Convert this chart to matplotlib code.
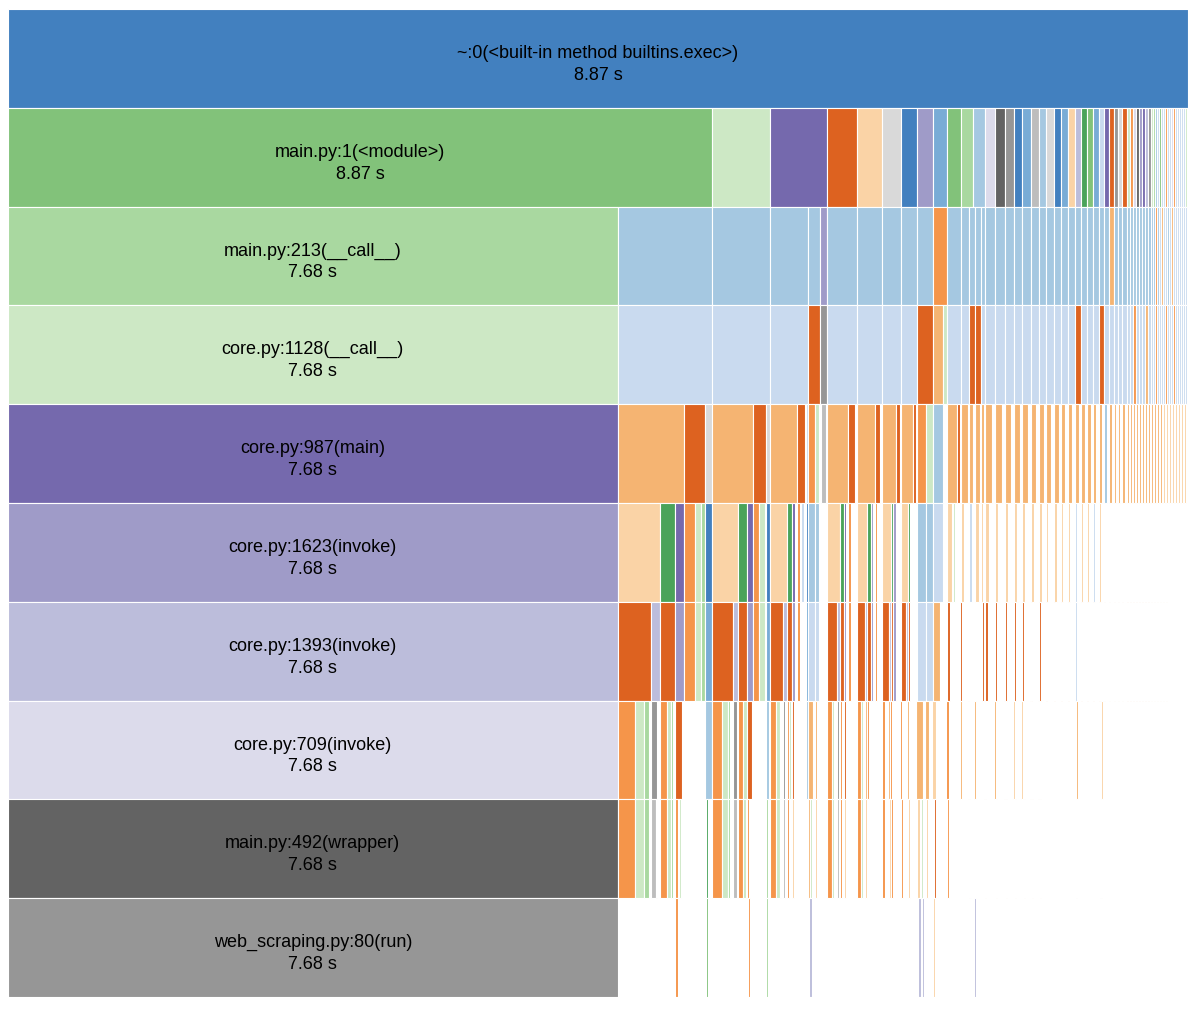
import numpy as np
import matplotlib.pyplot as plt

plt.rcParams["font.family"] = ["Liberation Sans", "DejaVu Sans"]

# category20c as it shows on the screenshot
PALETTE = [
    "#4280bf", "#79acd6", "#a5c8e1", "#c9daef",
    "#dd6220", "#f5954a", "#f5b472", "#fad3a6",
    "#4aa35a", "#82c27a", "#a9d8a0", "#cde8c5",
    "#7569ad", "#9f9bc8", "#bcbddb", "#dcdbeb",
    "#636363", "#969696", "#bdbdbd", "#d9d9d9",
]

FRAMES = [
    "~:0(<built-in method builtins.exec>)",
    "main.py:1(<module>)",
    "main.py:213(__call__)",
    "core.py:1128(__call__)",
    "core.py:987(main)",
    "core.py:1623(invoke)",
    "core.py:1393(invoke)",
    "core.py:709(invoke)",
    "main.py:492(wrapper)",
    "web_scraping.py:80(run)",
]
FRAME_TIMES = [8.87, 8.87, 7.68, 7.68, 7.68, 7.68, 7.68, 7.68, 7.68, 7.68]
FRAME_COLOURS = [0, 9, 10, 11, 12, 13, 14, 15, 16, 17]

# the other calls to the right of each labelled frame: (seconds, palette index), None = empty
N = None

ROW_2 = [
    (0.731, 11), (0.718, 12), (0.378, 4), (0.315, 7), (0.239, 19), (0.202, 0),
    (0.202, 13), (0.176, 1), (0.176, 9), (0.151, 10), (0.151, 2), (0.126, 15),
    (0.126, 16), (0.113, 17), (0.101, 0), (0.113, 1), (0.101, 18), (0.088, 2),
    (0.101, 19), (0.088, 0), (0.088, 1), (0.088, 7), (0.076, 14), (0.076, 8),
    (0.076, 9), (0.076, 1), (0.063, 3), (0.063, 12), (0.063, 4), (0.050, 17),
    (0.050, 19), (0.063, 4),
    (0.038, 11), (0.038, 5), (0.038, 15), (0.038, 16), (0.038, 13), (0.038, 12),
    (0.038, 14), (0.038, 17), (0.025, 11), (0.025, 10), (0.025, 2), (0.025, 3),
    (0.025, 9), (0.025, 3), (0.025, 3), (0.025, 5), (0.025, 3), (0.025, 3),
    (0.025, 15), (0.025, 5), (0.025, 3), (0.025, 3), (0.025, 3), (0.025, 3),
    (0.025, 3), (0.025, 11), (0.013, 3),
]

ROW_3 = [
    (1.184, 2), (0.731, 2), (0.479, 2), (0.151, 2), (0.088, 13), (0.378, 2),
    (0.315, 2), (0.239, 2), (0.202, 2), (0.202, 2), (0.176, 5), (0.176, 2),
    (0.101, 2), (0.076, 2), (0.076, 2), (0.050, 2),
    (0.126, 2), (0.126, 2), (0.113, 2), (0.101, 2), (0.113, 2), (0.101, 2),
    (0.088, 2), (0.101, 2), (0.088, 2), (0.088, 2), (0.088, 2), (0.076, 2),
    (0.076, 2), (0.076, 2), (0.076, 2), (0.063, 2), (0.063, 2), (0.063, 6),
    (0.050, 2), (0.050, 2), (0.063, 2),
    (0.038, 2), (0.038, 2), (0.038, 2), (0.038, 2), (0.038, 2), (0.038, 2),
    (0.038, 2), (0.038, 2), (0.025, 2), (0.025, 2), (0.025, 5), (0.025, 2),
    (0.025, 3), (0.025, 6), (0.025, 3), (0.025, 3), (0.025, 2), (0.025, 3),
    (0.025, 6), (0.025, 3), (0.025, 3), (0.025, 3), (0.025, 3), (0.025, 3),
    (0.025, 3), (0.025, 3), (0.013, 3),
]

ROW_4 = [
    (1.184, 3), (0.731, 3), (0.479, 3), (0.151, 4), (0.088, 17), (0.378, 3),
    (0.315, 3), (0.239, 3), (0.202, 3), (0.202, 4), (0.126, 6), (0.050, 11),
    (0.176, 3), (0.101, 3), (0.076, 4), (0.076, 4), (0.050, 3),
    (0.126, 3), (0.126, 3), (0.113, 3), (0.101, 3), (0.113, 3), (0.101, 3),
    (0.088, 3), (0.101, 3), (0.088, 3), (0.088, 3), (0.088, 3), (0.076, 4),
    (0.076, 3), (0.076, 3), (0.076, 3), (0.063, 4), (0.063, 3), (0.063, 3),
    (0.050, 3), (0.050, 3), (0.063, 3),
    (0.038, 3), (0.038, 3), (0.038, 5), (0.038, 3), (0.038, 3), (0.038, 3),
    (0.038, 6), (0.038, 3), (0.025, 3), (0.025, 3), (0.025, 5), (0.025, 3),
    (0.025, 3), (0.025, 3), (0.025, 3), (0.025, 5), (0.025, 3), (0.025, 3),
    (0.025, 3), (0.025, 5), (0.025, 3), (0.025, 3), (0.025, 3), (0.025, 3),
    (0.025, 3), (0.025, 3), (0.013, 3),
]

ROW_5 = [
    (0.832, 6), (0.265, 4), (0.088, 19),
    (0.517, 6), (0.164, 4), (0.050, 19),
    (0.340, 6), (0.101, 4), (0.013, N), (0.025, 3),
    (0.088, 5), (0.050, 11), (0.013, N),
    (0.013, N), (0.063, 18), (0.013, N),
    (0.265, 6), (0.088, 4), (0.025, N),
    (0.227, 6), (0.063, 4), (0.025, N),
    (0.176, 6), (0.050, 4), (0.013, N),
    (0.151, 6), (0.038, 4), (0.013, N),
    (0.113, 5), (0.088, 11),
    (0.126, 2),
    (0.050, N),
    (0.126, 6), (0.038, 4), (0.013, N),
    (0.088, 6), (0.013, N),
    (0.050, 6), (0.025, N),
    (0.063, 6), (0.013, N),
    (0.038, 6), (0.013, N),
    (0.088, 6), (0.038, N), (0.088, 6), (0.038, N), (0.076, 6), (0.038, N),
    (0.076, 6), (0.025, N), (0.076, 6), (0.038, N), (0.063, 6), (0.038, N),
    (0.063, 6), (0.025, N), (0.063, 6), (0.038, N), (0.063, 6), (0.025, N),
    (0.050, 6), (0.038, N), (0.050, 6), (0.038, N), (0.050, 6), (0.025, N),
    (0.050, 6), (0.025, N), (0.050, 6), (0.025, N), (0.038, 6), (0.038, N),
    (0.038, 6), (0.025, N), (0.038, 2), (0.025, N), (0.038, 6), (0.025, N),
    (0.025, 6), (0.025, N), (0.025, 6), (0.025, N), (0.038, 6), (0.025, N),
    (0.025, 6), (0.013, N), (0.025, 6), (0.013, N), (0.025, 6), (0.013, N),
    (0.025, 6), (0.013, N), (0.025, 6), (0.013, N), (0.025, 6), (0.013, N),
    (0.025, 6), (0.013, N), (0.025, 6), (0.013, N), (0.025, 6), (0.013, N),
    (0.025, 6), (0.013, N), (0.025, 6), (0.013, N), (0.025, 6), (0.013, N),
    (0.025, 7), (0.013, N), (0.025, 7), (0.013, N), (0.025, 7), (0.013, N),
    (0.025, 7), (0.013, N), (0.025, 7), (0.013, N), (0.025, 7), (0.013, N),
    (0.025, 7), (0.013, N), (0.025, 7), (0.013, N),
]

ROW_6 = [
    (0.529, 7), (0.189, 8), (0.113, 12),
    (0.139, 5), (0.076, 11), (0.050, 10),
    (0.088, 0),
    (0.328, 7), (0.113, 8), (0.076, 12),
    (0.076, 5), (0.076, 11), (0.013, N),
    (0.050, 0),
    (0.214, 7), (0.063, 8), (0.038, 12), (0.025, N),
    (0.038, 5), (0.013, N), (0.038, 3), (0.013, N),
    (0.013, N), (0.025, 0),
    (0.088, 2), (0.050, 2),
    (0.101, N),
    (0.164, 7), (0.050, 8), (0.025, 12), (0.025, N),
    (0.038, 5), (0.050, N), (0.025, N),
    (0.126, 7), (0.050, 8), (0.025, 13), (0.025, N),
    (0.025, 5), (0.038, N), (0.025, N),
    (0.113, 7), (0.025, 8), (0.038, 13),
    (0.050, N), (0.013, N),
    (0.088, 7), (0.025, 8), (0.038, N),
    (0.038, N), (0.013, N),
    (0.113, 2), (0.088, 2),
    (0.126, 3),
    (0.050, N),
    (0.063, 7), (0.013, N), (0.025, 11), (0.025, N),
    (0.038, N), (0.013, N),
    (0.038, 7), (0.050, N), (0.013, N),
    (0.038, 3), (0.013, N), (0.025, N),
    (0.050, 7), (0.013, N), (0.013, N),
    (0.025, 7), (0.013, N), (0.013, N),
    (0.050, 7), (0.076, N), (0.038, 7), (0.013, 11), (0.076, N),
    (0.038, 7), (0.076, N), (0.038, 7), (0.013, 10), (0.050, N),
    (0.038, 7), (0.076, N), (0.038, 7), (0.063, N), (0.038, 7), (0.050, N),
    (0.025, 7), (0.076, N), (0.038, 7), (0.050, N), (0.025, 7), (0.063, N),
    (0.025, 7), (0.063, N), (0.025, 3), (0.050, N), (0.025, 7), (0.050, N),
    (0.025, 7), (0.050, N), (0.025, 3), (0.050, N), (0.025, 7), (0.038, N),
    (0.013, 7), (0.050, N), (0.013, 7), (0.050, N), (0.013, 7), (0.038, N),
    (0.013, 7), (0.038, N), (0.013, 7), (0.050, N),
    (0.013, 7), (0.025, N), (0.013, 7), (0.025, N), (0.013, 7), (0.025, N),
    (0.013, 7), (0.025, N), (0.013, 7), (0.025, N), (0.013, 7), (0.025, N),
    (0.013, 7), (0.025, N), (0.013, 7), (0.025, N), (0.013, 7), (0.025, N),
    (0.013, 7), (0.025, N),
]

ROW_7 = [
    (0.416, 4), (0.113, 14), (0.189, 4), (0.113, 13), (0.139, 5), (0.076, 11),
    (0.050, 10), (0.088, 1),
    (0.265, 4), (0.063, 14), (0.113, 4), (0.076, 13), (0.076, 5), (0.076, 11),
    (0.013, N), (0.050, 1),
    (0.164, 4), (0.050, 14), (0.063, 4), (0.038, 13), (0.025, N),
    (0.038, 5), (0.050, N), (0.013, N),
    (0.013, N), (0.025, 1),
    (0.088, 3), (0.050, 3), (0.101, N),
    (0.126, 4), (0.038, 14), (0.050, 4), (0.025, 13), (0.025, N),
    (0.038, 5), (0.050, N), (0.025, N),
    (0.101, 4), (0.025, 14), (0.050, 4), (0.025, 13), (0.025, N),
    (0.025, 5), (0.038, N), (0.025, N),
    (0.088, 4), (0.025, 14), (0.025, 4), (0.038, 13), (0.050, N), (0.013, N),
    (0.063, 4), (0.025, 14), (0.025, 4), (0.038, N), (0.038, N), (0.013, N),
    (0.113, 3), (0.088, 3), (0.088, 6), (0.038, N), (0.050, N),
    (0.038, 4), (0.088, N), (0.050, N), (0.025, 4), (0.076, N), (0.076, N),
    (0.088, N), (0.025, 4), (0.013, N),
    (0.038, 4), (0.088, N), (0.025, 4), (0.101, N), (0.025, 4), (0.088, N),
    (0.025, 4), (0.076, N), (0.025, 4), (0.088, N), (0.025, 4), (0.076, N),
    (0.025, 4), (0.063, N), (0.025, 4), (0.076, N), (0.013, 4), (0.076, N),
    (0.013, 4), (0.076, N), (0.013, 4), (0.076, N), (0.025, 3), (0.050, N),
    (0.013, 4), (0.063, N), (0.013, 4), (0.063, N), (0.013, 4), (0.063, N),
    (0.013, 4), (0.050, N), (0.013, 6), (0.050, N), (0.013, 6), (0.050, N),
    (0.013, 6), (0.038, N), (0.013, 6), (0.038, N), (0.013, 6), (0.050, N),
    (0.013, 4), (0.025, N), (0.013, 4), (0.025, N), (0.013, 4), (0.025, N),
    (0.013, 4), (0.025, N), (0.013, 4), (0.025, N), (0.013, 4), (0.025, N),
    (0.013, 4), (0.025, N), (0.013, 4), (0.025, N), (0.013, 6), (0.025, N),
    (0.013, 6), (0.025, N), (0.013, 6), (0.025, N), (0.013, 6), (0.025, N),
    (0.013, 6), (0.025, N), (0.013, 6), (0.025, N),
]

ROW_8 = [
    (0.214, 5), (0.113, 11), (0.063, 10), (0.025, N),
    (0.076, 17), (0.038, N),
    (0.088, 5), (0.050, 11), (0.025, 10), (0.025, N),
    (0.088, 4), (0.025, N),
    (0.265, N),
    (0.088, 2),
    (0.126, 5), (0.076, 11), (0.025, 10), (0.038, N),
    (0.050, 17), (0.013, N),
    (0.063, 5), (0.050, 11),
    (0.063, 4), (0.013, N),
    (0.164, N),
    (0.038, 2), (0.013, N),
    (0.076, 5), (0.050, 11), (0.013, 10), (0.025, N),
    (0.025, 17), (0.025, N),
    (0.025, 5), (0.025, 11), (0.013, N),
    (0.025, 4), (0.013, N),
    (0.025, N), (0.101, N), (0.013, N),
    (0.025, 2),
    (0.063, 6), (0.025, N), (0.025, 6), (0.025, N),
    (0.101, N),
    (0.063, 5), (0.025, 11), (0.038, N),
    (0.025, 17), (0.013, N),
    (0.025, 5), (0.025, N),
    (0.025, 4),
    (0.139, N),
    (0.050, 5), (0.025, 11), (0.025, N),
    (0.025, 6),
    (0.025, 5), (0.025, N),
    (0.025, N), (0.113, N),
    (0.038, 5), (0.050, N),
    (0.025, 6), (0.025, 5), (0.038, N), (0.063, N),
    (0.025, 5), (0.038, N), (0.025, N), (0.025, 6), (0.088, N),
    (0.088, 6), (0.025, N), (0.050, 6), (0.038, N),
    (0.050, 7), (0.038, N), (0.088, N),
    (0.038, 5), (0.088, N), (0.050, N), (0.025, 6), (0.076, N), (0.013, 7),
    (0.063, N), (0.025, 6), (0.101, N), (0.013, 7), (0.113, N), (0.025, 6),
    (0.101, N), (0.013, 7), (0.101, N), (0.025, 7), (0.076, N), (0.025, 7),
    (0.088, N), (0.013, 7), (0.088, N), (0.013, 7), (0.454, N), (0.025, 6),
    (0.290, N), (0.025, 7), (1.071, N),
]

ROW_9 = [
    (0.214, 5), (0.113, 11), (0.063, 10), (0.025, N),
    (0.063, 18), (0.013, 17), (0.038, N),
    (0.088, 5), (0.050, 11), (0.025, 10), (0.025, N),
    (0.038, 5), (0.013, N), (0.025, 11), (0.013, N), (0.025, N),
    (0.265, N),
    (0.013, N), (0.025, 8), (0.050, N),
    (0.126, 5), (0.076, 11), (0.025, 10), (0.038, N),
    (0.050, 18), (0.013, N),
    (0.063, 5), (0.038, 11), (0.013, N),
    (0.025, 5), (0.050, N),
    (0.164, N),
    (0.025, 10), (0.025, N),
    (0.076, 5), (0.050, 11), (0.013, 10), (0.025, N),
    (0.025, 18), (0.025, N),
    (0.025, 5), (0.038, N),
    (0.025, 7), (0.013, N),
    (0.164, N),
    (0.025, 6), (0.025, 11), (0.038, N),
    (0.025, 7), (0.025, N),
    (0.101, N),
    (0.063, 5), (0.025, 11), (0.038, N),
    (0.025, 18), (0.013, N),
    (0.025, 5), (0.025, N),
    (0.025, 7),
    (0.139, N),
    (0.050, 5), (0.025, 11), (0.025, N),
    (0.025, 7),
    (0.189, N),
    (0.038, 5), (0.050, N),
    (0.025, 7), (0.025, 5), (0.101, N),
    (0.025, 5), (0.038, N), (0.025, N), (0.025, 7), (0.088, N),
    (0.038, 7), (0.013, N), (0.025, 11), (0.038, N), (0.025, 7), (0.063, N),
    (0.013, N), (0.025, 4), (0.050, N), (0.088, N),
    (0.025, 5), (0.101, N), (0.151, N), (0.013, 7), (0.063, N), (0.013, 7),
    (0.113, N), (0.013, 7), (0.126, N), (0.013, 7), (0.113, N), (0.013, 7),
    (0.101, N), (0.013, 7), (0.101, N), (0.013, 7), (0.088, N), (0.013, 7),
    (0.088, N), (0.013, 7), (0.441, N), (0.013, 7), (0.302, N), (0.013, 7),
    (1.084, N),
]

ROW_10 = [
    (0.718, N), (0.038, 5), (0.013, N), (0.013, 11), (0.328, N), (0.025, 9),
    (0.504, N), (0.025, 5), (0.202, N), (0.025, 10), (0.315, N), (0.013, 6),
    (0.189, N), (0.038, 14), (0.013, N), (0.013, 14), (0.013, N), (0.013, 15),
    (0.365, N), (0.013, 7), (0.907, N), (0.038, 14), (0.013, N), (0.025, 14),
    (0.025, N), (0.013, 14), (0.076, N), (0.025, 7), (0.441, N), (0.013, 15),
    (0.038, N), (0.025, 14), (1.260, N), (0.013, 14), (0.290, N), (0.013, 14),
    (1.096, N),
]

OTHER_CALLS = [[], ROW_2, ROW_3, ROW_4, ROW_5, ROW_6, ROW_7, ROW_8, ROW_9, ROW_10]

W, H = 1196, 1012
fig = plt.figure(figsize=(W / 100, H / 100), dpi=100)
ax = fig.add_axes([8 / W, 14 / H, 1180 / W, 988 / H])

# the root frame spans everything that sits below it
total = FRAME_TIMES[1] + sum(w for w, _ in ROW_2)

for depth, name in enumerate(FRAMES):
    frame_w = total if depth == 0 else FRAME_TIMES[depth]
    widths = np.array([frame_w] + [w for w, _ in OTHER_CALLS[depth]])
    colours = [FRAME_COLOURS[depth]] + [c for _, c in OTHER_CALLS[depth]]
    lefts = np.concatenate([[0], np.cumsum(widths)[:-1]])
    keep = [i for i, c in enumerate(colours) if c is not None]

    ax.barh(
        depth + 0.5,
        widths[keep],
        left=lefts[keep],
        height=1.0,
        color=[PALETTE[colours[i]] for i in keep],
        edgecolor="white",
        linewidth=0.8,
    )

    ax.text(frame_w / 2, depth + 0.44, name,
            ha="center", va="center", fontsize=13, color="black")
    ax.text(frame_w / 2, depth + 0.66, f"{FRAME_TIMES[depth]:.2f} s",
            ha="center", va="center", fontsize=13, color="black")

ax.set_xlim(0, total)
ax.set_ylim(len(FRAMES), 0)
ax.axis("off")

fig.savefig("out.png", dpi=100)
